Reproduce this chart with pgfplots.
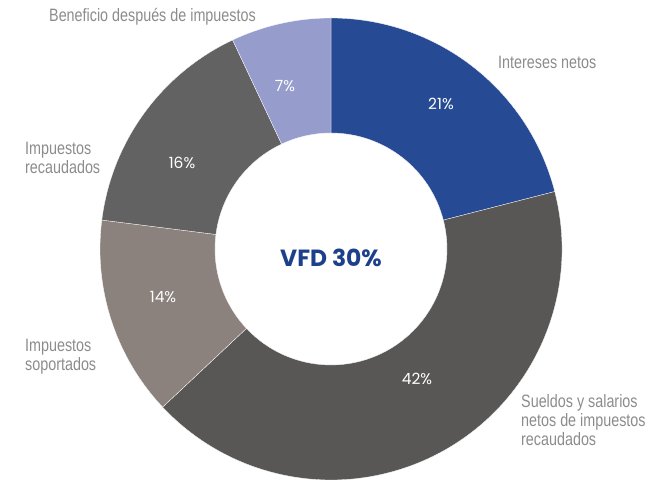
\documentclass[border=0pt]{standalone}
\usepackage{fontspec}
\setmainfont{Liberation Sans}
\newfontfamily\labfont[FakeStretch=0.8]{Liberation Sans}
\newfontfamily\pop{Poppins}[UprightFont=* Regular, BoldFont=* Bold]
\usepackage{pgfplots}
\usepackage{pgfplotstable}
\pgfplotsset{compat=1.18}
\usetikzlibrary{calc}

\definecolor{cBlue}{RGB}{38,74,148}
\definecolor{cDark}{RGB}{88,87,86}
\definecolor{cWarm}{RGB}{139,130,126}
\definecolor{cMid}{RGB}{98,98,98}
\definecolor{cLav}{RGB}{150,156,204}
\definecolor{labgray}{RGB}{140,140,140}
\definecolor{vfdblue}{RGB}{28,64,140}

% slices clockwise from 12 o'clock; lx/ly = position of the percentage label
\pgfplotstableread{
value col   lx  ly
21    cBlue 441 377
42    cDark 417 102
14    cWarm 163 184
16    cMid  182 318
7     cLav  285 395
}\piedata

\begin{document}
\begin{tikzpicture}
\begin{axis}[width=664bp,height=481bp,scale only axis,
  xmin=0,xmax=664,ymin=0,ymax=481,hide axis,clip=false]
\path (axis cs:0,0) rectangle (axis cs:664,481);
\def\cum{0}
\pgfplotsforeachungrouped \i in {0,...,4}{%
  \pgfplotstablegetelem{\i}{value}\of\piedata \let\v\pgfplotsretval
  \pgfplotstablegetelem{\i}{col}\of\piedata \let\c\pgfplotsretval
  \pgfplotstablegetelem{\i}{lx}\of\piedata \let\lx\pgfplotsretval
  \pgfplotstablegetelem{\i}{ly}\of\piedata \let\ly\pgfplotsretval
  \pgfmathsetmacro\a{90-3.6*\cum}
  \pgfmathsetmacro\cum{\cum+\v}
  \pgfmathsetmacro\b{90-3.6*\cum}
  \edef\temp{\noexpand\fill[fill=\c,draw=white,line width=0.3pt]
    ($(axis cs:331,232)+(\a:231bp)$) arc[start angle=\a,end angle=\b,radius=231bp]
    -- ($(axis cs:331,232)+(\b:116bp)$) arc[start angle=\b,end angle=\a,radius=116bp] -- cycle;
    \noexpand\node[text=white,font=\noexpand\pop\noexpand\fontsize{15.5}{18}\noexpand\selectfont]
      at (axis cs:\lx,\ly) {\v\noexpand\%};}
  \temp
}
\node[font=\pop\bfseries\fontsize{23.5}{28}\selectfont,text=vfdblue] at (axis cs:331,223) {VFD 30\%};
\tikzset{lab/.style={anchor=west,align=left,text=labgray,font=\labfont\fontsize{18}{19}\selectfont,inner sep=0pt}}
\node[lab] at (axis cs:49,464) {Beneficio después de impuestos};
\node[lab] at (axis cs:498,419) {Intereses netos};
\node[lab] at (axis cs:25,323.5) {Impuestos\\recaudados};
\node[lab] at (axis cs:25,124) {Impuestos\\soportados};
\node[lab] at (axis cs:521,61) {Sueldos y salarios\\netos de impuestos\\recaudados};
\end{axis}
\end{tikzpicture}
\end{document}
